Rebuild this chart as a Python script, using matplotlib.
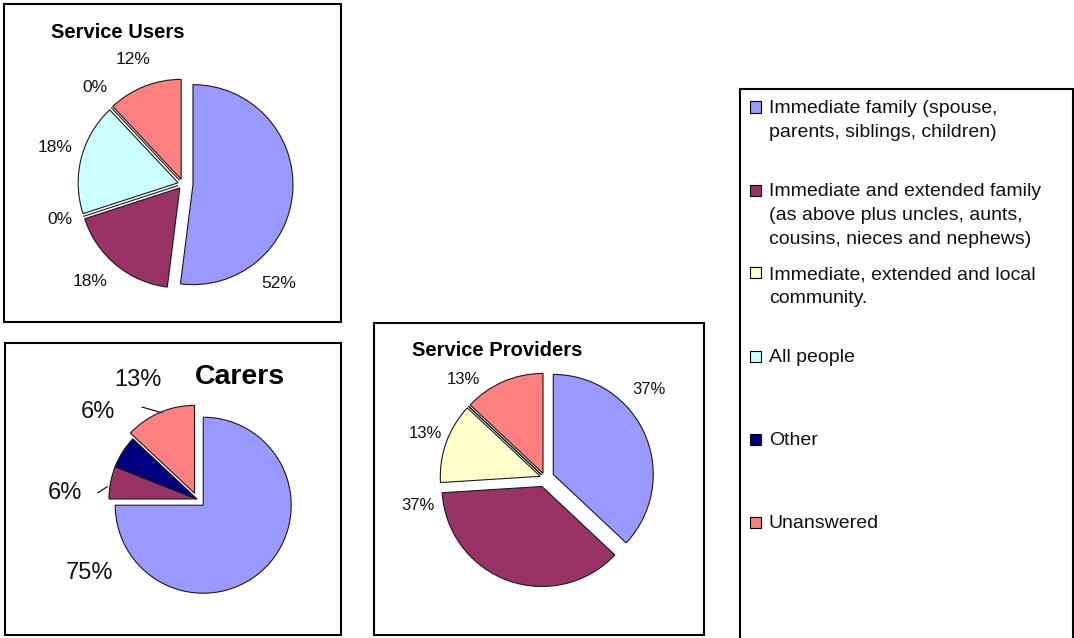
import matplotlib
matplotlib.use('Agg')
import matplotlib.pyplot as plt
from matplotlib.patches import Rectangle

# ---------------- data ----------------
categories = [
    "Immediate family (spouse,\nparents, siblings, children)",
    "Immediate and extended family\n(as above plus uncles, aunts,\ncousins, nieces and nephews)",
    "Immediate, extended and local\ncommunity.",
    "All people",
    "Other",
    "Unanswered",
]
colors = ['#9999FF', '#993366', '#FFFFCC', '#CCFFFF', '#000080', '#FF8080']

service_users = [52, 18, 0, 18, 0, 12]
carers = [75, 6, 0, 0, 6, 13]
service_providers = [37, 37, 13, 0, 0, 13]

# which slices carry a label
su_show = [True, True, True, True, True, True]
ca_show = [True, True, False, False, True, True]
sp_show = [True, True, True, False, False, True]

# ---------------- layout ----------------
W, H = 1074, 638
plt.rcParams['font.family'] = ['Liberation Sans', 'DejaVu Sans']
fig = plt.figure(figsize=(W / 100, H / 100), dpi=100)
fig.patch.set_facecolor('white')


def fx(x):
    return x / W


def fy(y):
    return 1 - y / H


def box(x0, y0, x1, y1):
    fig.add_artist(Rectangle((fx(x0), fy(y1)), fx(x1) - fx(x0), fy(y0) - fy(y1),
                             transform=fig.transFigure, fill=False,
                             edgecolor='black', linewidth=1.5))


def pie_axes(cx, cy, r, L=1.7):
    ax = fig.add_axes([fx(cx - L * r), fy(cy + L * r), 2 * L * r / W, 2 * L * r / H])
    ax.patch.set_visible(False)
    return ax, L


def draw_pie(cx, cy, r, values, explode, show, label_xy, fontsize):
    ax, L = pie_axes(cx, cy, r)
    ax.pie(values, colors=colors, explode=explode, startangle=90, counterclock=False,
           wedgeprops=dict(edgecolor='#1a1a1a', linewidth=0.8))
    ax.set_xlim(-L, L)
    ax.set_ylim(-L, L)
    ax.set_aspect('equal')
    ax.axis('off')
    total = sum(values)
    k = 0
    for v, s in zip(values, show):
        if s:
            x, y = label_xy[k]
            ax.text(x, y, f"{round(100 * v / total)}%", ha='center', va='center',
                    fontsize=fontsize, color='#111111')
            k += 1
    return ax


# frames
box(4, 4, 341, 322)
box(5, 343, 341, 635)
box(374, 323, 704, 635)
box(740, 89, 1073, 660)

# Service Users
draw_pie(183, 184, 100, service_users, [0.1, 0.05, 0.05, 0.05, 0.05, 0.05], su_show,
         [(0.96, -0.99), (-0.93, -0.98), (-1.23, -0.36), (-1.28, 0.36), (-0.88, 0.96), (-0.50, 1.24)],
         12.5)
fig.text(fx(118), fy(32), "Service Users", ha='center', va='center', fontsize=14.5,
         fontweight='bold')

# Carers
axc = draw_pie(197, 499, 88, carers, [0.1, 0, 0, 0, 0, 0.07], ca_show,
               [(-1.22, -0.84), (-1.50, 0.07), (-1.125, 0.99), (-0.67, 1.35)], 17)
axc.plot([-1.125, -1.02], [0.07, 0.14], color='black', linewidth=0.8)
axc.plot([-0.625, -0.40], [1.045, 0.98], color='black', linewidth=0.8)
fig.text(fx(240), fy(377), "Carers", ha='center', va='center', fontsize=20.5,
         fontweight='bold')

# Service Providers
draw_pie(545, 478, 100, service_providers, [0.09, 0.09, 0.05, 0.05, 0.05, 0.05], sp_show,
         [(1.04, 0.88), (-1.27, -0.27), (-1.20, 0.45), (-0.82, 0.98)], 12)
fig.text(fx(497), fy(351), "Service Providers", ha='center', va='center', fontsize=14.5,
         fontweight='bold')

# Legend
for i, (lab, c) in enumerate(zip(categories, colors)):
    yc = 107 + i * 83
    fig.add_artist(Rectangle((fx(749.5), fy(yc + 5.5)), 11 / W, 11 / H, transform=fig.transFigure,
                             facecolor=c, edgecolor='black', linewidth=0.8))
    fig.text(fx(769), fy(yc - 7), lab, ha='left', va='top', fontsize=14,
             linespacing=1.55, color='#111111')

fig.savefig('out.png', dpi=100, facecolor='white')
